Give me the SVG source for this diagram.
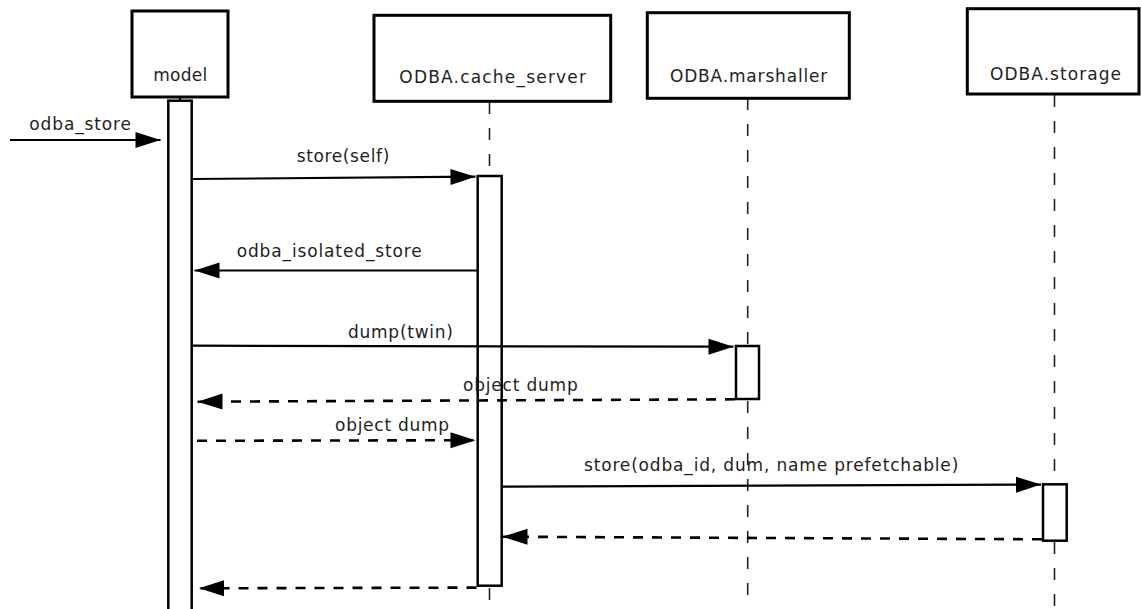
<svg xmlns="http://www.w3.org/2000/svg" width="1141" height="609" viewBox="0 0 1141 609">
  <style>
    .box { fill: #ffffff; stroke: #000000; stroke-width: 3; }
    .bar { fill: #ffffff; stroke: #000000; stroke-width: 2.5; }
    .life { fill: none; stroke: #222222; stroke-width: 1.6; stroke-dasharray: 12 14; }
    .msg { fill: none; stroke: #000000; stroke-width: 2.2; marker-end: url(#head); }
    .ret { fill: none; stroke: #000000; stroke-width: 2.6; stroke-dasharray: 10 9; marker-end: url(#head); }
    text { font-family: "DejaVu Sans", "Liberation Sans", sans-serif; font-size: 17px; fill: #1e1e1e; }
  </style>
  <defs>
    <marker id="head" markerUnits="userSpaceOnUse" markerWidth="26" markerHeight="17" refX="25" refY="8" orient="auto" overflow="visible">
      <path d="M0,0 L25,8 L0,16 Z" fill="#000000"/>
    </marker>
  </defs>
  <rect width="1141" height="609" fill="#ffffff"/>

  <!-- dashed lifelines, broken where an activation bar sits -->
  <g id="lifelines">
    <line class="life" x1="489.5" y1="102" x2="489.5" y2="176"/>
    <line class="life" x1="489.5" y1="588" x2="489.5" y2="609"/>
    <line class="life" x1="747.7" y1="98" x2="747.7" y2="346"/>
    <line class="life" x1="747.7" y1="401" x2="747.7" y2="609"/>
    <line class="life" x1="1054.5" y1="95" x2="1054.5" y2="484"/>
    <line class="life" x1="1054.5" y1="542" x2="1054.5" y2="609"/>
  </g>

  <g id="model">
    <rect class="box" x="132" y="11" width="96" height="86"/>
    <line x1="180" y1="97" x2="180" y2="101" stroke="#000" stroke-width="2"/>
    <rect class="bar" x="168.3" y="100.7" width="23.4" height="520"/>
    <text x="153.3" y="80.5" textLength="54" lengthAdjust="spacing">model</text>
  </g>

  <g id="cache_server">
    <rect class="box" x="374" y="15.3" width="236.7" height="86"/>
    <rect class="bar" x="477.7" y="176" width="24" height="409.7"/>
    <text x="399.3" y="83.3" textLength="186.7" lengthAdjust="spacing">ODBA.cache_server</text>
  </g>

  <g id="marshaller">
    <rect class="box" x="647.3" y="12.7" width="202" height="85.6"/>
    <rect class="bar" x="736" y="346" width="23" height="53"/>
    <text x="670" y="82" textLength="157.3" lengthAdjust="spacing">ODBA.marshaller</text>
  </g>

  <g id="storage">
    <rect class="box" x="967.3" y="8.7" width="171.7" height="85.3"/>
    <rect class="bar" x="1043" y="484.3" width="23.7" height="56.4"/>
    <text x="990" y="79.5" textLength="131" lengthAdjust="spacing">ODBA.storage</text>
  </g>

  <!-- messages -->
  <g id="connectors">
    <line class="msg" x1="10" y1="140" x2="160.5" y2="140"/>
    <line class="msg" x1="192" y1="179" x2="475.5" y2="176.7"/>
    <line class="msg" x1="477" y1="270.5" x2="194.5" y2="270.5"/>
    <line class="msg" x1="192" y1="345.7" x2="733.5" y2="346.7"/>
    <line class="ret" x1="735" y1="399.3" x2="197.5" y2="401.7"/>
    <line class="ret" x1="197" y1="440.8" x2="475.5" y2="440.2"/>
    <line class="msg" x1="501" y1="486.7" x2="1041" y2="484.6"/>
    <line class="ret" x1="1042" y1="539.3" x2="502.5" y2="536.7"/>
    <line class="ret" x1="476.5" y1="587.6" x2="199" y2="588.3"/>

    <text x="29.3" y="129.5" textLength="101.7" lengthAdjust="spacing">odba_store</text>
    <text x="296.7" y="162" textLength="92.6" lengthAdjust="spacing">store(self)</text>
    <text x="236.7" y="257" textLength="185" lengthAdjust="spacing">odba_isolated_store</text>
    <text x="348" y="337.5" textLength="105" lengthAdjust="spacing">dump(twin)</text>
    <text x="463" y="391" textLength="114.7" lengthAdjust="spacing">object dump</text>
    <text x="335" y="431" textLength="114" lengthAdjust="spacing">object dump</text>
    <text x="584" y="470.5" textLength="374.3" lengthAdjust="spacing">store(odba_id, dum, name prefetchable)</text>
  </g>
</svg>
